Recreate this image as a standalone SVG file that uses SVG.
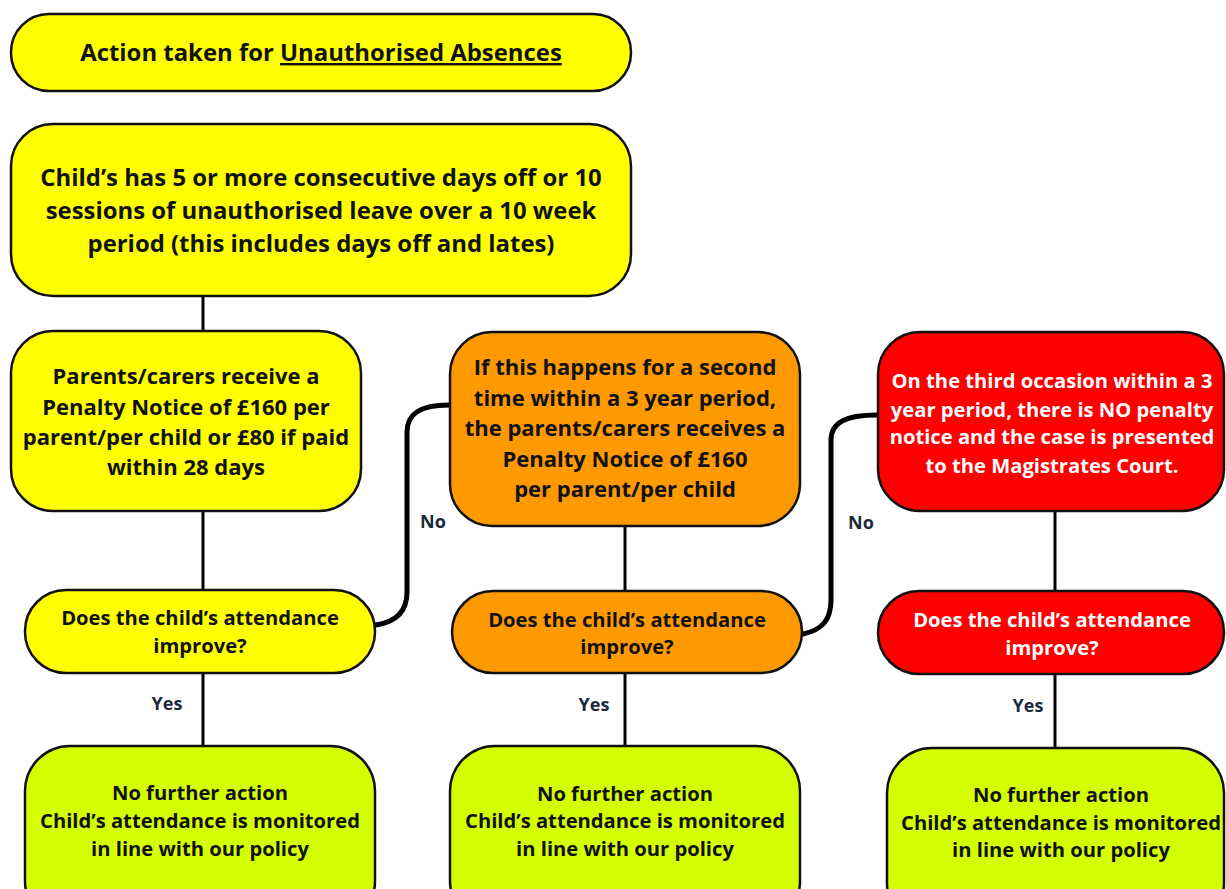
<svg xmlns="http://www.w3.org/2000/svg" width="1226" height="889" viewBox="0 0 1226 889">
<style>
.b{stroke:#111;stroke-width:2.5}
.y{fill:#ffff00}.o{fill:#ff9900}.r{fill:#ff0000}.g{fill:#d4ff00}
text{font-family:"Open Sans","Noto Sans","DejaVu Sans",sans-serif;font-weight:700;text-anchor:middle;fill:#111}
.w{fill:#fff}
.t24{font-size:23.9px}.t22{font-size:22px}.t20{font-size:20.2px}
.lbl{font-size:18px;fill:#1c2a3c}
.c{fill:none;stroke:#000;stroke-width:3}
.cn{fill:none;stroke:#000;stroke-width:5;stroke-linecap:round}
</style>
<rect width="1226" height="889" fill="#fff"/>
<g id="connectors">
<line class="c" x1="203" y1="296" x2="203" y2="331"/>
<line class="c" x1="203" y1="511" x2="203" y2="590"/>
<line class="c" x1="203" y1="673" x2="203" y2="746"/>
<line class="c" x1="625" y1="526" x2="625" y2="591"/>
<line class="c" x1="625" y1="673" x2="625" y2="746"/>
<line class="c" x1="1055" y1="511" x2="1055" y2="591"/>
<line class="c" x1="1055" y1="674" x2="1055" y2="748"/>
<path class="cn" d="M376,625 C396,622 407,612 407,592 L407,432 C407,414 420,405 449,405"/>
<path class="cn" d="M803,634 C822,630 831,620 831,600 L831,440 C831,423 845,415 877,415"/>
<text class="lbl" x="433" y="528">No</text>
<text class="lbl" x="861" y="529">No</text>
<text class="lbl" x="167" y="710">Yes</text>
<text class="lbl" x="594" y="711">Yes</text>
<text class="lbl" x="1028" y="712">Yes</text>
</g>
<g id="title">
<rect class="b y" x="11" y="14" width="620" height="77" rx="38"/>
<text class="t24" x="321" y="61">Action taken for <tspan text-decoration="underline">Unauthorised Absences</tspan></text>
</g>
<g id="trigger">
<rect class="b y" x="11" y="124" width="620" height="172" rx="42"/>
<text class="t24" x="321" y="186">Child’s has 5 or more consecutive days off or 10</text>
<text class="t24" x="321" y="219">sessions of unauthorised leave over a 10 week</text>
<text class="t24" x="321" y="252">period (this includes days off and lates)</text>
</g>
<g id="penalty1">
<rect class="b y" x="11" y="331" width="350" height="180" rx="42"/>
<text class="t22" x="186" y="384">Parents/carers receive a</text>
<text class="t22" x="186" y="415">Penalty Notice of £160 per</text>
<text class="t22" x="186" y="445">parent/per child or £80 if paid</text>
<text class="t22" x="186" y="475">within 28 days</text>
</g>
<g id="improve1">
<rect class="b y" x="25" y="590" width="350" height="83" rx="41"/>
<text class="t20" x="200" y="625">Does the child’s attendance</text>
<text class="t20" x="200" y="653">improve?</text>
</g>
<g id="nfa1">
<rect class="b g" x="25" y="746" width="350" height="180" rx="45"/>
<text class="t20" x="200" y="800">No further action</text>
<text class="t20" x="200" y="828">Child’s attendance is monitored</text>
<text class="t20" x="200" y="856">in line with our policy</text>
</g>
<g id="penalty2">
<rect class="b o" x="450" y="332" width="350" height="194" rx="42"/>
<text class="t22" x="625" y="375">If this happens for a second</text>
<text class="t22" x="625" y="406">time within a 3 year period,</text>
<text class="t22" x="625" y="436">the parents/carers receives a</text>
<text class="t22" x="625" y="467">Penalty Notice of £160</text>
<text class="t22" x="625" y="497">per parent/per child</text>
</g>
<g id="improve2">
<rect class="b o" x="452" y="591" width="350" height="82" rx="41"/>
<text class="t20" x="627" y="627">Does the child’s attendance</text>
<text class="t20" x="627" y="654">improve?</text>
</g>
<g id="nfa2">
<rect class="b g" x="450" y="746" width="350" height="180" rx="45"/>
<text class="t20" x="625" y="801">No further action</text>
<text class="t20" x="625" y="828">Child’s attendance is monitored</text>
<text class="t20" x="625" y="856">in line with our policy</text>
</g>
<g id="court">
<rect class="b r" x="878" y="332" width="346" height="179" rx="42"/>
<text class="t20 w" x="1052" y="388">On the third occasion within a 3</text>
<text class="t20 w" x="1052" y="417">year period, there is NO penalty</text>
<text class="t20 w" x="1052" y="444">notice and the case is presented</text>
<text class="t20 w" x="1052" y="473">to the Magistrates Court.</text>
</g>
<g id="improve3">
<rect class="b r" x="878" y="591" width="346" height="83" rx="41"/>
<text class="t20 w" x="1052" y="627">Does the child’s attendance</text>
<text class="t20 w" x="1052" y="655">improve?</text>
</g>
<g id="nfa3">
<rect class="b g" x="887" y="748" width="337" height="180" rx="45"/>
<text class="t20" x="1061" y="802">No further action</text>
<text class="t20" x="1061" y="830">Child’s attendance is monitored</text>
<text class="t20" x="1061" y="857">in line with our policy</text>
</g>
</svg>
